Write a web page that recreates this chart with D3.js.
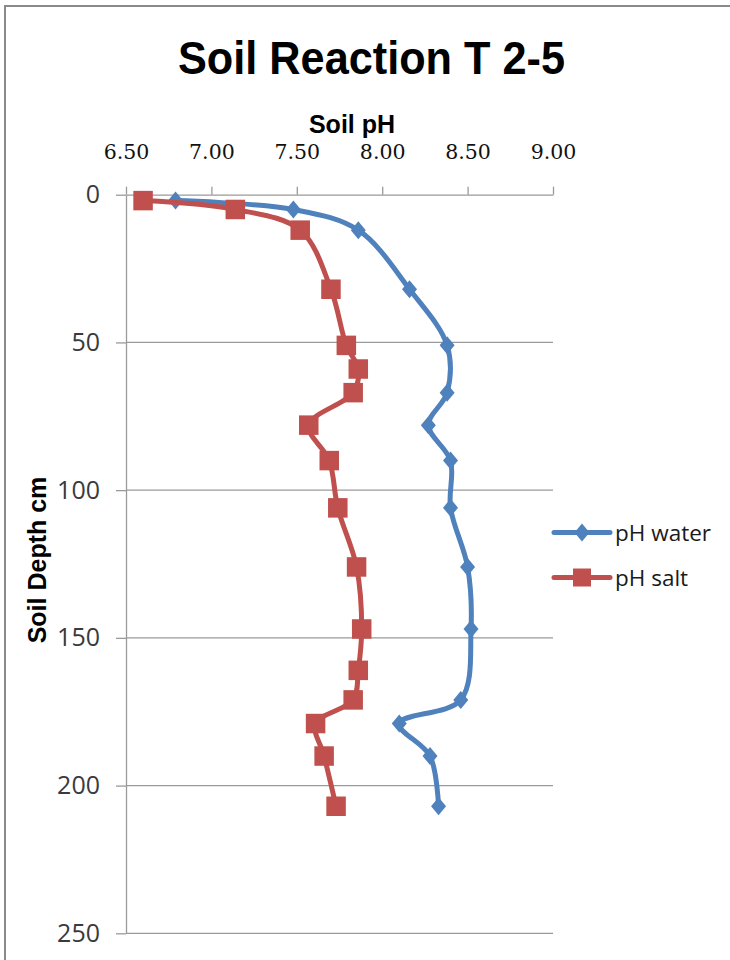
<!DOCTYPE html>
<html>
<head>
<meta charset="utf-8">
<script src="https://cdn.jsdelivr.net/npm/d3@7/dist/d3.min.js"></script>
<style>
  html, body { margin: 0; padding: 0; background: #fff; }
  svg { display: block; }
</style>
</head>
<body>
<svg id="chart" width="730" height="960"></svg>
<script>
// Soil pH profile, trench T 2-5
const waterDepth = [2, 5, 12, 32, 51, 67, 78, 90, 106, 126, 147, 171, 179, 190, 207];
const waterPH    = [6.79, 7.48, 7.86, 8.16, 8.38, 8.38, 8.27, 8.40, 8.40, 8.50, 8.52, 8.46, 8.10, 8.28, 8.33];

const saltDepth = [2, 5, 12, 32, 51, 59, 67, 78, 90, 106, 126, 147, 161, 171, 179, 190, 207];
const saltPH    = [6.60, 7.14, 7.52, 7.70, 7.79, 7.86, 7.83, 7.57, 7.69, 7.74, 7.85, 7.88, 7.86, 7.83, 7.61, 7.66, 7.73];

const phTicks = [6.5, 7.0, 7.5, 8.0, 8.5, 9.0];
const depthTicks = [0, 50, 100, 150, 200, 250];

const seriesNames = ["pH water", "pH salt"];
const seriesColors = ["#4F81BD", "#C0504D"];

const svg = d3.select("#chart");

// outer frame (top and left edges)
svg.append("path")
  .attr("d", "M5,960 V6 H730")
  .attr("fill", "none")
  .attr("stroke", "#8a8a8a")
  .attr("stroke-width", 2);

const x = d3.scaleLinear().domain([6.5, 9.0]).range([126, 553]);
const y = d3.scaleLinear().domain([0, 250]).range([194.7, 933.3]);

// horizontal gridlines
svg.append("g")
  .selectAll("line")
  .data(depthTicks.filter(d => d > 0))
  .join("line")
  .attr("x1", x(6.5)).attr("x2", x(9.0))
  .attr("y1", d => y(d)).attr("y2", d => y(d))
  .attr("stroke", "#9a9a9a").attr("stroke-width", 1.3);

// top axis (pH)
const xAxis = svg.append("g")
  .attr("transform", `translate(0,${y(0)})`)
  .call(d3.axisTop(x).tickValues(phTicks).tickFormat(d3.format(".2f")).tickSize(8).tickPadding(28).tickSizeOuter(0));
xAxis.select(".domain").attr("stroke", "#9a9a9a").attr("stroke-width", 1.3);
xAxis.selectAll(".tick line").attr("stroke", "#9a9a9a").attr("stroke-width", 1.3);
xAxis.selectAll(".tick text")
  .attr("font-family", "DejaVu Serif")
  .attr("font-size", 20.5)
  .attr("fill", "#111");

// left axis (depth)
const yAxis = svg.append("g")
  .attr("transform", `translate(${x(6.5)},0)`)
  .call(d3.axisLeft(y).tickValues(depthTicks).tickSize(10).tickPadding(16).tickSizeOuter(0));
yAxis.select(".domain").attr("stroke", "#9a9a9a").attr("stroke-width", 1.3);
yAxis.selectAll(".tick line").attr("stroke", "#9a9a9a").attr("stroke-width", 1.3);
yAxis.selectAll(".tick text")
  .attr("font-family", "Open Sans")
  .attr("font-size", 25)
  .attr("fill", "#3a3a3a");

// titles
svg.append("text")
  .attr("x", 371.5).attr("y", 74)
  .attr("text-anchor", "middle")
  .attr("font-family", "Liberation Sans").attr("font-weight", "bold")
  .attr("font-size", 46)
  .attr("textLength", 387).attr("lengthAdjust", "spacingAndGlyphs")
  .text("Soil Reaction T 2-5");

svg.append("text")
  .attr("x", 352).attr("y", 133)
  .attr("text-anchor", "middle")
  .attr("font-family", "Liberation Sans").attr("font-weight", "bold")
  .attr("font-size", 25)
  .text("Soil pH");

svg.append("text")
  .attr("transform", "translate(46,560) rotate(-90)")
  .attr("text-anchor", "middle")
  .attr("font-family", "Liberation Sans").attr("font-weight", "bold")
  .attr("font-size", 25)
  .text("Soil Depth cm");

// series
const line = d3.line()
  .x(d => x(d.ph)).y(d => y(d.depth))
  .curve(d3.curveCatmullRom.alpha(0.5));

const water = waterDepth.map((d, i) => ({ depth: d, ph: waterPH[i] }));
const salt = saltDepth.map((d, i) => ({ depth: d, ph: saltPH[i] }));

const diamond = (cx, cy) => `M${cx},${cy - 9} L${cx + 7.5},${cy} L${cx},${cy + 9} L${cx - 7.5},${cy} Z`;
const square = 19.5;

svg.append("path").datum(water)
  .attr("d", line).attr("fill", "none")
  .attr("stroke", seriesColors[0]).attr("stroke-width", 5)
  .attr("stroke-linejoin", "round").attr("stroke-linecap", "round");
svg.append("g").selectAll("path").data(water).join("path")
  .attr("d", d => diamond(x(d.ph), y(d.depth)))
  .attr("fill", seriesColors[0]);

svg.append("path").datum(salt)
  .attr("d", line).attr("fill", "none")
  .attr("stroke", seriesColors[1]).attr("stroke-width", 5)
  .attr("stroke-linejoin", "round").attr("stroke-linecap", "round");
svg.append("g").selectAll("rect").data(salt).join("rect")
  .attr("x", d => x(d.ph) - square / 2).attr("y", d => y(d.depth) - square / 2)
  .attr("width", square).attr("height", square)
  .attr("fill", seriesColors[1]);

// legend
const legendY = [532.5, 577.5];
const legend = svg.append("g");
seriesNames.forEach((name, i) => {
  const g = legend.append("g");
  g.append("line")
    .attr("x1", 554).attr("x2", 610)
    .attr("y1", legendY[i]).attr("y2", legendY[i])
    .attr("stroke", seriesColors[i]).attr("stroke-width", 5)
    .attr("stroke-linecap", "round");
  if (i === 0) {
    g.append("path").attr("d", diamond(582, legendY[i])).attr("fill", seriesColors[i]);
  } else {
    g.append("rect")
      .attr("x", 582 - 9).attr("y", legendY[i] - 9)
      .attr("width", 18).attr("height", 18)
      .attr("fill", seriesColors[i]);
  }
  g.append("text")
    .attr("x", 615).attr("y", legendY[i] + 8)
    .attr("font-family", "Open Sans").attr("font-size", 22.5)
    .attr("fill", "#1a1a1a")
    .text(name);
});
</script>
</body>
</html>
